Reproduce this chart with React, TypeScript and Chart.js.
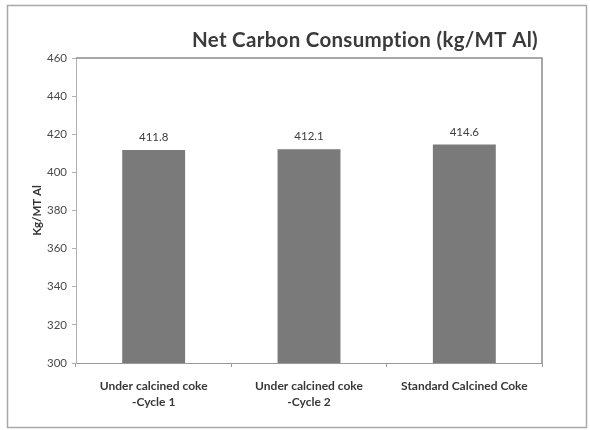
import React, { useEffect, useRef } from "react";
import { Chart, registerables } from "chart.js";

Chart.register(...registerables);

const categories: string[][] = [
  ["Under calcined coke", "-Cycle 1"],
  ["Under calcined coke", "-Cycle 2"],
  ["Standard Calcined Coke"],
];
const values: number[] = [411.8, 412.1, 414.6];
const valueLabels: string[] = ["411.8", "412.1", "414.6"];
const chartTitle = "Net Carbon Consumption (kg/MT Al)";
const yAxisTitle = "Kg/MT Al";

const FONT = "Lato, 'Open Sans', sans-serif";

const framePlugin = {
  id: "frameAndLabels",
  beforeDraw(chart: any) {
    const ctx = chart.ctx;
    ctx.save();
    ctx.fillStyle = "#ffffff";
    ctx.fillRect(0, 0, chart.width, chart.height);
    ctx.strokeStyle = "#a8a8a8";
    ctx.lineWidth = 1.5;
    ctx.strokeRect(7.5, 5.5, 579, 422);
    // title
    ctx.fillStyle = "#3a3a3a";
    ctx.font = `bold 20.5px ${FONT}`;
    (ctx as any).letterSpacing = "0.3px";
    ctx.textAlign = "center";
    ctx.textBaseline = "middle";
    ctx.fillText(chartTitle, 365, 40);
    ctx.restore();
  },
  afterDraw(chart: any) {
    const ctx = chart.ctx;
    const a = chart.chartArea;
    ctx.save();
    ctx.strokeStyle = "#8c8c8c";
    ctx.lineWidth = 1.5;
    ctx.beginPath();
    ctx.moveTo(a.left, a.top);
    ctx.lineTo(a.right, a.top);
    ctx.lineTo(a.right, a.bottom);
    ctx.stroke();
    const meta = chart.getDatasetMeta(0);
    ctx.fillStyle = "#404040";
    ctx.font = `11.5px ${FONT}`;
    ctx.textAlign = "center";
    ctx.textBaseline = "alphabetic";
    meta.data.forEach((bar: any, i: number) => {
      ctx.fillText(valueLabels[i], bar.x, bar.y - 9);
    });
    ctx.restore();
  },
};

export default function App() {
  const ref = useRef<HTMLCanvasElement | null>(null);
  useEffect(() => {
    if (!ref.current) return;
    const chart = new Chart(ref.current, {
      type: "bar",
      data: {
        labels: categories,
        datasets: [
          {
            data: values,
            backgroundColor: "#7a7a7a",
            borderWidth: 0,
            categoryPercentage: 1,
            barPercentage: 0.405,
          },
        ],
      },
      options: {
        animation: false,
        responsive: false,
        layout: { padding: { left: 0, right: 48, top: 58, bottom: 0 } },
        plugins: {
          legend: { display: false },
          tooltip: { enabled: false },
          title: { display: false },
        },
        scales: {
          x: {
            grid: {
              drawOnChartArea: false,
              drawTicks: true,
              tickLength: 4,
              color: "#9a9a9a",
              offset: true,
            },
            border: { display: true, color: "#9a9a9a", dash: [2, 2] },
            ticks: {
              color: "#383838",
              font: { family: FONT, size: 12, weight: "bold", lineHeight: "16px" },
              padding: 11,
              maxRotation: 0,
              autoSkip: false,
            },
            afterFit: (s: any) => {
              s.height = 67;
            },
          },
          y: {
            min: 300,
            max: 460,
            ticks: {
              stepSize: 20,
              color: "#4a4a4a",
              font: { family: FONT, size: 11.5 },
              padding: 5,
            },
            grid: {
              drawOnChartArea: false,
              drawTicks: true,
              tickLength: 4,
              color: "#b0b0b0",
            },
            border: { display: true, color: "#b0b0b0", dash: [2, 2] },
            title: {
              display: true,
              text: yAxisTitle,
              color: "#333333",
              font: { family: FONT, size: 11.5, weight: "bold" },
              padding: { top: 30, bottom: 0 },
            },
            afterFit: (s: any) => {
              s.width = 76;
            },
          },
        },
      },
      plugins: [framePlugin],
    });
    return () => chart.destroy();
  }, []);
  return (
    <div style={{ position: "fixed", left: 0, top: 0, width: 590, height: 430, background: "#fff" }}>
      <canvas ref={ref} width={590} height={430} />
    </div>
  );
}
